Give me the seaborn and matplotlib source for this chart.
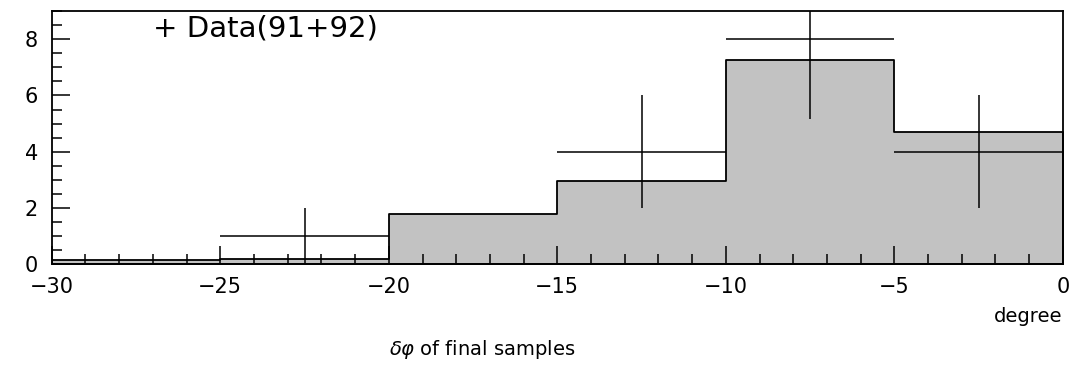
import numpy as np
import pandas as pd
import matplotlib.pyplot as plt
import seaborn as sns

# Data ---------------------------------------------------------------
bin_edges = [-30, -25, -20, -15, -10, -5, 0]
mc_counts = [0.15, 0.2, 1.8, 2.95, 7.25, 4.7]   # shaded MC histogram
data_x = [-22.5, -12.5, -7.5, -2.5]
data_y = [1, 4, 8, 4]
data_xerr = [2.5, 2.5, 2.5, 2.5]

# Style --------------------------------------------------------------
sns.set_style("ticks")
plt.rcParams["font.family"] = ["DejaVu Sans"]
plt.rcParams["text.color"] = "black"
c_fill = "#c2c2c2"
lw = 1.3

centers = [(a + b) / 2 for a, b in zip(bin_edges[:-1], bin_edges[1:])]
df = pd.DataFrame({"x": centers, "w": mc_counts})

fig = plt.figure(figsize=(10.79, 3.70), dpi=100)
ax = fig.add_axes([0.048, 0.286, 0.937, 0.684])

sns.histplot(data=df, x="x", weights="w", bins=bin_edges, element="step",
             fill=True, color=c_fill, edgecolor="black", linewidth=lw,
             alpha=1, ax=ax)

ax.errorbar(data_x, data_y, xerr=data_xerr, yerr=np.sqrt(data_y),
            fmt="none", ecolor="black", elinewidth=1.1, capsize=0)

ax.set_axisbelow(False)  # ticks stay visible over the shaded bins
ax.set_xlim(-30, 0)
ax.set_ylim(0, 9)
ax.set_xticks(range(-30, 1, 5))
ax.set_xticks(range(-30, 1, 1), minor=True)
ax.set_yticks([0, 2, 4, 6, 8])
ax.set_yticks(np.arange(0, 9.01, 0.5), minor=True)
ax.tick_params(which="both", direction="in", top=False, right=False,
               width=1.1, colors="black", labelsize=15)
ax.tick_params(which="major", length=13)
ax.tick_params(which="minor", length=7)
ax.tick_params(axis="x", pad=9)
ax.tick_params(axis="y", pad=10)
for s in ax.spines.values():
    s.set_linewidth(1.3)
    s.set_color("black")

ax.set_xlabel("")
ax.set_ylabel("")

ax.text(0.1, 0.93, "+ Data(91+92)", transform=ax.transAxes,
        fontsize=21, va="center", ha="left", color="black")
fig.text(0.985, 0.145, "degree", ha="right", va="center", fontsize=14,
         color="black")
fig.text(0.447, 0.055, r"$\delta\varphi$ of final samples", ha="center",
         va="center", fontsize=14, color="black")

fig.savefig("out.png", dpi=100)
